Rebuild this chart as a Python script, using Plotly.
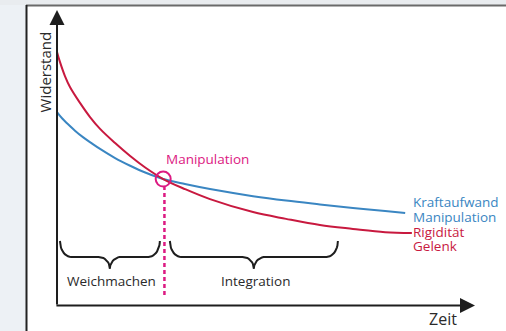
import numpy as np
import plotly.graph_objects as go

# ---------------- data ----------------
zeit_kraft = [0, 1.2, 2.4, 4.3, 6.2, 8.4, 10.3, 13.9, 17.5, 21.1, 25.4, 30.6, 36.6, 46.9, 54.8, 62.9, 70.8, 78.5, 83.3]
kraftaufwand = [65.4, 63.3, 61.6, 59.1, 56.9, 54.7, 52.9, 49.8, 47.2, 44.9, 42.7, 41.0, 39.3, 36.9, 35.4, 34.1, 32.9, 31.9, 31.2]

zeit_rigid = [0, 0.7, 1.9, 3.1, 5.5, 7.9, 10.3, 13.9, 17.5, 21.1, 25.4, 30.6, 36.6, 46.9, 54.8, 62.9, 70.8, 78.5, 84.9]
rigiditaet = [85.8, 82.4, 77.6, 73.9, 68.5, 63.7, 59.7, 54.9, 50.5, 46.6, 42.7, 39.3, 35.9, 31.5, 29.2, 27.1, 25.8, 24.7, 24.4]

manipulation_zeit = 25.4
manipulation_widerstand = 42.7

phasen = ["Weichmachen", "Integration"]
phasen_start = [0.7, 27.0]
phasen_ende = [24.6, 67.2]

label_kraft = ["Kraftaufwand", "Manipulation"]
label_rigid = ["Rigidität", "Gelenk"]

# ---------------- style ----------------
BLUE = "#3a86c2"
RED = "#c8193f"
MAGENTA = "#dc1a82"
DARK = "#1e1e1e"
FONT = "Open Sans"

XR = [-13.64, 107.42]
YR = [-8.81, 103.39]

fig = go.Figure()

fig.add_trace(go.Scatter(x=zeit_kraft, y=kraftaufwand, mode="lines",
                         line=dict(color=BLUE, width=2, shape="spline"), hoverinfo="skip"))
fig.add_trace(go.Scatter(x=zeit_rigid, y=rigiditaet, mode="lines",
                         line=dict(color=RED, width=2, shape="spline"), hoverinfo="skip"))

# dotted vertical line at manipulation
fig.add_trace(go.Scatter(x=[manipulation_zeit + 0.3, manipulation_zeit + 0.3],
                         y=[manipulation_widerstand - 2.4, 2.4], mode="lines",
                         line=dict(color=MAGENTA, width=2.5, dash="4px,3px"), hoverinfo="skip"))
# circle at intersection
fig.add_trace(go.Scatter(x=[manipulation_zeit], y=[manipulation_widerstand], mode="markers",
                         marker=dict(symbol="circle-open", size=15, color=MAGENTA,
                                     line=dict(color=MAGENTA, width=2)), hoverinfo="skip"))


def brace(x0, x1, ytop, ymid, ytip, r):
    xm = (x0 + x1) / 2
    th = np.linspace(0, np.pi / 2, 12)
    xs, ys = [], []
    xs += list(x0 + r * (1 - np.cos(th)))
    ys += list(ytop - (ytop - ymid) * np.sin(th))
    xs += list(xm - r + r * np.sin(th))
    ys += list(ymid - (ymid - ytip) * (1 - np.cos(th)))
    xs += list(xm + r - r * np.cos(th))
    ys += list(ytip + (ymid - ytip) * np.sin(th))
    xs += list(x1 - r + r * np.sin(th))
    ys += list(ymid + (ytop - ymid) * (1 - np.cos(th)))
    return xs, ys


for name, s, e in zip(phasen, phasen_start, phasen_ende):
    bx, by = brace(s, e, 21.7, 16.3, 12.3, 2.7)
    fig.add_trace(go.Scatter(x=bx, y=by, mode="lines",
                             line=dict(color=DARK, width=2), hoverinfo="skip"))
    fig.add_annotation(x=(s + e) / 2 + 0.3, y=8.1, text=name, showarrow=False,
                       font=dict(family=FONT, size=13.5, color="#2a2a2a"),
                       xanchor="center", yanchor="middle")

# axes with arrows
fig.add_annotation(x=100, y=-0.2, ax=-0.5, ay=-0.2, axref="x", ayref="y",
                   xref="x", yref="y", showarrow=True, arrowhead=2, arrowsize=1.5,
                   arrowwidth=2, arrowcolor=DARK, text="")
fig.add_annotation(x=0, y=100, ax=0, ay=-0.3, axref="x", ayref="y",
                   xref="x", yref="y", showarrow=True, arrowhead=2, arrowsize=1.5,
                   arrowwidth=2, arrowcolor=DARK, text="")

# labels
fig.add_annotation(x=-3.0, y=79, text="Widerstand", textangle=-90, showarrow=False,
                   font=dict(family=FONT, size=15, color="#2a2a2a"))
fig.add_annotation(x=92.4, y=-4.7, text="Zeit", showarrow=False,
                   font=dict(family=FONT, size=16, color="#2a2a2a"))
fig.add_annotation(x=manipulation_zeit + 10.5, y=49.5, text="Manipulation", showarrow=False,
                   font=dict(family=FONT, size=13.5, color=MAGENTA))

for i, t in enumerate(label_kraft):
    fig.add_annotation(x=84.8, y=35.0 - 5.0 * i, text=t, showarrow=False, xanchor="left",
                       font=dict(family=FONT, size=13.5, color=BLUE))
for i, t in enumerate(label_rigid):
    fig.add_annotation(x=84.8, y=24.9 - 5.0 * i, text=t, showarrow=False, xanchor="left",
                       font=dict(family=FONT, size=13.5, color=RED))

# frame decoration (screenshot border)
W, H = 506, 331
fig.add_shape(type="rect", xref="paper", yref="paper", x0=0, x1=26 / W, y0=0, y1=1,
              fillcolor="#edf1f5", line=dict(width=0), layer="below")
fig.add_shape(type="rect", xref="paper", yref="paper", x0=0, x1=1, y0=1 - 5 / H, y1=1,
              fillcolor="#e9ecef", line=dict(width=0), layer="below")
fig.add_shape(type="line", xref="paper", yref="paper", x0=26 / W, x1=1, y0=1 - 5.5 / H, y1=1 - 5.5 / H,
              line=dict(color="#6a6a6a", width=2))
fig.add_shape(type="line", xref="paper", yref="paper", x0=26.5 / W, x1=26.5 / W, y0=0, y1=1 - 5 / H,
              line=dict(color="#222222", width=2))

fig.update_layout(
    width=W, height=H, margin=dict(l=0, r=0, t=0, b=0),
    paper_bgcolor="white", plot_bgcolor="white", showlegend=False,
    xaxis=dict(range=XR, visible=False, fixedrange=True),
    yaxis=dict(range=YR, visible=False, fixedrange=True),
)

fig.write_html("out.html", config={"displayModeBar": False},
               post_script="document.body.style.margin='0px';document.body.style.overflow='hidden';")
